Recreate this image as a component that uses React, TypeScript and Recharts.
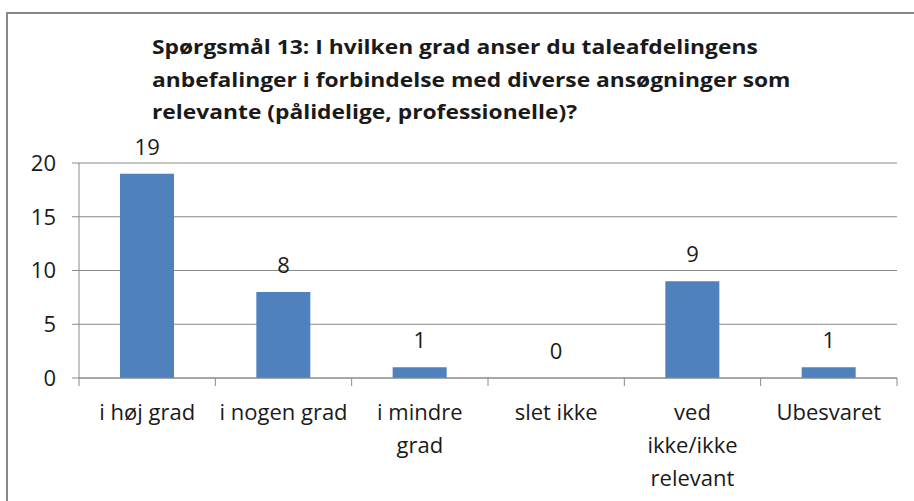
import { ComposedChart, Bar, Line, XAxis, YAxis, CartesianGrid, LabelList } from "recharts";

const categories = [
  "i høj grad",
  "i nogen grad",
  "i mindre\ngrad",
  "slet ikke",
  "ved\nikke/ikke\nrelevant",
  "Ubesvaret",
];
const answers = [19, 8, 1, 0, 9, 1];
const yTicks = [0, 5, 10, 15, 20];
const titleLines = [
  "Spørgsmål 13: I hvilken grad anser du taleafdelingens",
  "anbefalinger i forbindelse med diverse ansøgninger som",
  "relevante (pålidelige, professionelle)?",
];

const data = categories.map((name, i) => ({ name, value: answers[i] }));

const FONT = "'Open Sans', sans-serif";
const GRID = "#8a8a8a";
const TEXT = "#1a1a1a";

function CategoryTick(props: any) {
  const { x, y, payload, index, width, visibleTicksCount } = props;
  const half = width / visibleTicksCount / 2;
  const lines = String(payload.value).split("\n");
  return (
    <g>
      <line x1={x - half} x2={x - half} y1={y} y2={y + 8} stroke={GRID} />
      {index === visibleTicksCount - 1 && (
        <line x1={x + half} x2={x + half} y1={y} y2={y + 8} stroke={GRID} />
      )}
      <text x={x} y={y + 42} textAnchor="middle" fill={TEXT} fontSize={22} fontFamily={FONT}>
        {lines.map((l, i) => (
          <tspan key={i} x={x} dy={i === 0 ? 0 : 33}>
            {l}
          </tspan>
        ))}
      </text>
    </g>
  );
}

export default function App() {
  return (
    <div style={{ position: "absolute", left: 0, top: 0, width: 914, height: 501, background: "#fff", overflow: "hidden" }}>
      <div
        style={{
          position: "absolute",
          left: 6,
          top: 12,
          width: 1000,
          height: 600,
          borderLeft: "2px solid #888",
          borderTop: "2px solid #888",
        }}
      />
      <div
        style={{
          position: "absolute",
          left: 152,
          top: 31,
          fontFamily: FONT,
          fontWeight: 700,
          fontSize: 20,
          lineHeight: "32.5px",
          color: TEXT,
          whiteSpace: "nowrap",
          transform: "scaleX(1.14)",
          transformOrigin: "left top",
        }}
      >
        {titleLines.map((t, i) => (
          <div key={i}>{t}</div>
        ))}
      </div>
      <div style={{ position: "absolute", left: 0, top: 0 }}>
        <ComposedChart width={914} height={501} data={data} margin={{ top: 163, right: 17, bottom: 33, left: 0 }}>
          <CartesianGrid vertical={false} stroke={GRID} />
          <YAxis
            domain={[0, 20]}
            ticks={yTicks}
            width={79}
            tickSize={7}
            tickMargin={16}
            stroke={GRID}
            tick={{ fill: TEXT, fontSize: 22, fontFamily: FONT }}
          />
          <XAxis
            dataKey="name"
            height={90}
            stroke={GRID}
            tickLine={false}
            tickSize={0}
            tickMargin={0}
            interval={0}
            tick={<CategoryTick />}
          />
          <Bar dataKey="value" fill="#4f81bd" barSize={54} isAnimationActive={false} />
          <Line
            dataKey="value"
            stroke="none"
            dot={false}
            activeDot={false}
            legendType="none"
            isAnimationActive={false}
          >
            <LabelList dataKey="value" position="top" offset={19} fill={TEXT} fontSize={22} fontFamily={FONT} />
          </Line>
        </ComposedChart>
      </div>
    </div>
  );
}
